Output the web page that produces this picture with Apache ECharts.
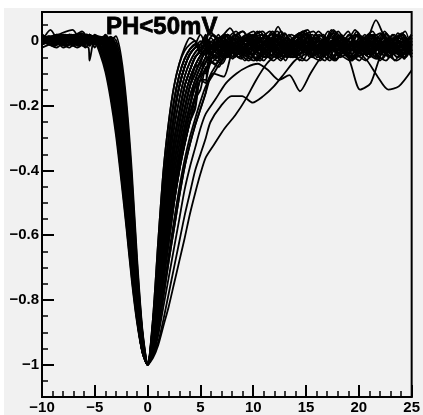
<!DOCTYPE html>
<html><head><meta charset="utf-8">
<script src="https://cdn.jsdelivr.net/npm/echarts@6/dist/echarts.min.js"></script>
<style>
html,body{margin:0;padding:0;background:#fff;}
#wrap{position:relative;width:423px;height:415px;background:#fff;overflow:hidden;}
#bg{position:absolute;left:4px;top:8px;width:419px;height:407px;background:#f1f1f1;}
#chart{position:absolute;left:0;top:0;width:423px;height:415px;}
</style></head><body>
<div id="wrap"><div id="bg"></div><div id="chart"></div></div>
<script>
// sample times (ns), relative to the pulse minimum
const timeNs = [-10,-9,-8,-7,-6,-5.5,-5,-4.5,-4,-3.5,-3,-2.5,-2,-1.5,-1,-0.5,0,0.5,1,1.5,2,2.5,3,3.5,4,4.5,5,5.5,6,7,8,9,10,11,12,13,14,15,16,17,18,19,20,21,22,23,24,25];

// normalised waveforms (amplitude), one per pulse
const wA = [0.01,-0.01,0.02,0,-0.015,0.01,0.005,-0.01,0.02,0.005,0.015,-0.05,-0.19,-0.40,-0.67,-0.89,-1,-0.86,-0.62,-0.40,-0.25,-0.14,-0.07,-0.03,-0.01,0,-0.02,-0.01,0.01,-0.05,0.01,0.03,-0.03,-0.06,0,0.025,-0.045,-0.02,0.02,-0.055,-0.01,0.03,-0.04,-0.015,-0.06,0,0.02,-0.04];
const wB = [-0.01,0.015,0,-0.02,0.01,0.02,-0.005,0.01,0,0.01,-0.01,-0.085,-0.23,-0.45,-0.70,-0.90,-1,-0.89,-0.70,-0.50,-0.35,-0.23,-0.14,-0.08,-0.04,-0.02,-0.01,0.01,-0.02,0,-0.03,-0.02,0.01,-0.02,0.045,-0.02,0,-0.01,-0.03,0.01,-0.02,-0.04,-0.01,0.01,-0.02,-0.03,-0.01,0];
const wC = [0,0.035,-0.01,0.01,0.03,0,-0.01,0.01,0,0.014,-0.03,-0.12,-0.28,-0.49,-0.73,-0.91,-1,-0.86,-0.62,-0.40,-0.25,-0.14,-0.07,-0.02,0.01,0,-0.03,-0.01,0.02,0.01,0.04,-0.02,-0.05,0.02,0,-0.045,-0.025,0.025,-0.035,-0.06,0.01,-0.03,0.03,-0.02,-0.055,0.005,-0.04,0.02];
const wD = [0.02,0,0.01,-0.01,0,0.015,0,-0.01,0.01,0.005,-0.05,-0.16,-0.32,-0.53,-0.75,-0.92,-1,-0.92,-0.76,-0.59,-0.43,-0.31,-0.22,-0.14,-0.09,-0.05,-0.03,-0.01,-0.02,0.01,-0.02,-0.04,-0.01,0,-0.03,-0.01,0.02,0.035,-0.04,-0.01,0.01,-0.03,-0.02,0,-0.02,-0.04,-0.01,-0.02];
const wE = [-0.01,0.01,0,0.02,-0.01,0,0.01,0,0.013,-0.01,-0.08,-0.20,-0.36,-0.57,-0.77,-0.93,-1,-0.89,-0.70,-0.50,-0.35,-0.23,-0.14,-0.08,-0.04,-0.02,-0.01,-0.03,0,-0.04,0.02,-0.05,-0.01,0.03,-0.02,-0.06,0,0.02,-0.04,-0.01,0.035,-0.03,-0.055,0.01,-0.02,0.025,-0.05,-0.03];
const wF = [0.01,-0.015,0.01,0,0.02,0.01,0,0.01,0.015,-0.03,-0.11,-0.23,-0.40,-0.60,-0.79,-0.935,-1,-0.94,-0.80,-0.65,-0.50,-0.38,-0.29,-0.21,-0.14,-0.08,-0.07,-0.02,-0.05,0.01,-0.04,0,-0.02,-0.04,-0.01,0.01,-0.02,-0.03,0,-0.02,-0.04,-0.01,0,-0.03,-0.02,0.01,-0.02,-0.03];
const wG = [0,0.01,0.025,0.035,-0.01,0,0.02,0.01,0.008,-0.04,-0.125,-0.25,-0.42,-0.615,-0.80,-0.94,-1,-0.92,-0.76,-0.59,-0.43,-0.31,-0.22,-0.14,-0.09,-0.05,-0.03,-0.01,0,-0.03,-0.01,-0.02,0.01,-0.03,-0.02,0,-0.04,-0.01,0.01,-0.02,-0.03,0,-0.01,-0.04,-0.01,0.01,-0.02,0];
const wH = [-0.02,0,0.01,0.01,0,0.02,0.005,0.012,0,-0.05,-0.14,-0.27,-0.44,-0.63,-0.81,-0.94,-1,-0.95,-0.83,-0.70,-0.57,-0.44,-0.35,-0.27,-0.20,-0.12,-0.11,-0.05,-0.07,0,-0.04,0.01,-0.02,-0.01,-0.04,-0.02,0.01,-0.03,-0.02,0,-0.03,-0.01,-0.04,-0.02,0.01,-0.02,-0.04,-0.01];
const wI = [0.015,0,-0.01,0.01,0.02,0,0.01,0.013,-0.01,-0.06,-0.155,-0.29,-0.455,-0.64,-0.815,-0.945,-1,-0.89,-0.70,-0.50,-0.35,-0.23,-0.14,-0.08,-0.04,-0.02,0,-0.02,-0.04,0.02,-0.05,0.01,-0.04,-0.06,0.02,-0.01,-0.05,0.015,0.03,-0.03,-0.06,-0.01,0.02,-0.045,0,-0.03,0.025,-0.05];
const wJ = [0,-0.01,0.015,-0.005,0.01,0,0.005,0.014,-0.02,-0.07,-0.17,-0.31,-0.47,-0.65,-0.82,-0.95,-1,-0.94,-0.80,-0.65,-0.50,-0.38,-0.29,-0.21,-0.14,-0.10,-0.06,-0.035,-0.02,0,-0.02,-0.04,-0.01,0.01,-0.02,-0.04,-0.01,0,-0.03,-0.01,0.01,-0.02,-0.03,0,-0.03,-0.02,0,-0.01];
const wK = [0.01,0,0,0.02,-0.01,0.01,0.008,0.01,-0.027,-0.085,-0.185,-0.325,-0.485,-0.665,-0.83,-0.95,-1,-0.96,-0.86,-0.74,-0.62,-0.50,-0.40,-0.32,-0.25,-0.18,-0.15,-0.08,-0.10,-0.02,-0.05,0.01,0,-0.02,-0.03,0.01,-0.02,-0.01,-0.04,-0.02,0,-0.02,-0.01,-0.03,-0.02,0,-0.03,-0.02];
const wL = [-0.01,0.01,0,0.015,0,0.02,0.012,0.007,-0.035,-0.10,-0.20,-0.34,-0.50,-0.68,-0.84,-0.95,-1,-0.92,-0.76,-0.59,-0.43,-0.31,-0.22,-0.14,-0.09,-0.05,-0.03,-0.01,-0.03,-0.05,0.02,-0.01,-0.06,0.01,0.03,-0.04,-0.02,0.02,-0.05,-0.03,0.015,-0.06,0,0.03,-0.035,-0.01,-0.055,0.01];
const wM = [0.02,0,-0.01,0,0.01,0,0.013,0,-0.043,-0.115,-0.215,-0.355,-0.515,-0.69,-0.845,-0.955,-1,-0.95,-0.83,-0.70,-0.57,-0.44,-0.35,-0.27,-0.20,-0.14,-0.10,-0.065,-0.04,-0.015,0,-0.03,-0.02,0,-0.02,-0.03,0,-0.02,-0.01,-0.03,0,-0.02,-0.03,-0.01,0.01,-0.03,-0.02,-0.01];
const wN = [0,0.02,0.005,-0.01,-0.02,-0.06,0.014,-0.01,-0.05,-0.13,-0.23,-0.37,-0.53,-0.70,-0.85,-0.96,-1,-0.94,-0.80,-0.65,-0.50,-0.38,-0.29,-0.21,-0.14,-0.10,-0.06,-0.035,-0.02,0.02,-0.045,-0.01,0.03,-0.05,-0.02,0.02,-0.06,0,-0.03,0.035,-0.02,-0.05,0.01,-0.04,0.02,-0.06,-0.01,0.02];
const wO = [0.01,-0.01,0,0.01,0.025,0.008,0.015,-0.015,-0.06,-0.14,-0.245,-0.385,-0.545,-0.71,-0.855,-0.96,-1,-0.96,-0.86,-0.74,-0.62,-0.50,-0.40,-0.32,-0.25,-0.21,-0.12,-0.13,-0.06,-0.08,0,-0.03,-0.04,-0.01,0.01,-0.02,-0.03,0,-0.02,0.01,-0.03,-0.02,0,-0.04,-0.01,-0.02,0,-0.02];
const wP = [-0.01,0.01,0,0,0.01,0.01,0.015,-0.02,-0.07,-0.15,-0.26,-0.40,-0.56,-0.72,-0.86,-0.96,-1,-0.95,-0.83,-0.70,-0.57,-0.44,-0.35,-0.27,-0.20,-0.14,-0.10,-0.065,-0.04,-0.015,-0.055,0.01,0.03,-0.04,-0.01,-0.06,0.015,0.02,-0.05,-0.02,0.03,-0.03,-0.06,0,0.025,-0.04,-0.01,-0.05];
const wQ = [0,-0.01,0.02,0.005,-0.005,0.013,0,-0.04,-0.095,-0.18,-0.29,-0.43,-0.58,-0.74,-0.87,-0.96,-1,-0.97,-0.89,-0.79,-0.68,-0.58,-0.48,-0.39,-0.32,-0.26,-0.21,-0.16,-0.10,-0.11,-0.02,-0.06,-0.01,0,-0.02,-0.01,-0.03,0,-0.02,-0.03,-0.01,0.01,-0.02,-0.03,-0.01,-0.02,0.01,-0.01];
const wR = [-0.01,0.01,0,0.02,-0.01,0,0.015,-0.005,0,0.012,-0.02,-0.10,-0.255,-0.47,-0.715,-0.905,-1,-0.97,-0.89,-0.79,-0.68,-0.58,-0.48,-0.39,-0.32,-0.26,-0.21,-0.16,-0.125,-0.065,-0.03,-0.01,0.02,-0.05,-0.01,0.03,-0.04,-0.06,0,0.02,-0.045,-0.02,0.035,-0.03,-0.055,0.01,-0.02,0.02];
const wS = [0,0.02,0.01,-0.01,0,0.01,-0.01,0,0.014,-0.015,-0.09,-0.21,-0.37,-0.58,-0.775,-0.93,-1,-0.97,-0.91,-0.82,-0.73,-0.64,-0.55,-0.46,-0.39,-0.33,-0.27,-0.225,-0.18,-0.13,-0.10,-0.08,-0.07,-0.09,-0.12,-0.105,-0.155,-0.10,-0.05,-0.02,-0.03,0,-0.02,-0.03,-0.01,-0.02,0,-0.03];
const wT = [0.01,0,-0.01,0.015,0,-0.01,0.01,0.013,-0.005,-0.055,-0.148,-0.28,-0.448,-0.635,-0.812,-0.943,-1,-0.97,-0.93,-0.86,-0.78,-0.70,-0.62,-0.54,-0.47,-0.40,-0.35,-0.30,-0.25,-0.20,-0.17,-0.17,-0.19,-0.17,-0.14,-0.10,-0.06,-0.04,-0.02,-0.04,-0.01,-0.02,0,-0.03,-0.02,-0.01,-0.03,0];
const wU = [0.005,0,0.015,-0.01,0.01,0,0.008,0.009,-0.03,-0.093,-0.193,-0.333,-0.493,-0.673,-0.835,-0.95,-1,-0.98,-0.94,-0.88,-0.82,-0.75,-0.68,-0.61,-0.535,-0.47,-0.41,-0.36,-0.32,-0.27,-0.23,-0.18,-0.12,-0.07,-0.04,-0.02,-0.04,-0.01,0,-0.03,-0.02,-0.01,-0.03,0,-0.02,-0.04,-0.02,-0.01];
const wV = [-0.01,0,0.01,0.02,0,0.01,0,0.01,0.012,-0.003,-0.065,-0.18,-0.34,-0.55,-0.76,-0.925,-1,-0.92,-0.76,-0.59,-0.43,-0.31,-0.22,-0.14,-0.09,-0.05,-0.03,-0.01,-0.02,0,-0.03,-0.01,0.01,-0.02,-0.03,0,-0.02,-0.01,-0.03,0,-0.02,-0.03,-0.02,-0.01,0.065,0,-0.02,-0.01];
const wW = [0.01,-0.01,0,0.01,-0.02,0,0.01,0,0.005,0.01,-0.04,-0.14,-0.30,-0.51,-0.74,-0.915,-1,-0.95,-0.83,-0.70,-0.57,-0.44,-0.35,-0.27,-0.20,-0.14,-0.10,-0.065,-0.04,-0.015,-0.02,0.01,-0.02,-0.03,0,-0.02,-0.01,-0.03,0,-0.02,-0.01,-0.06,-0.15,-0.13,-0.04,-0.01,-0.03,-0.02];
const wX = [0,0.01,-0.01,0.02,0,0.01,0,0.005,0.014,-0.02,-0.095,-0.215,-0.38,-0.585,-0.78,-0.93,-1,-0.89,-0.70,-0.50,-0.35,-0.23,-0.14,-0.08,-0.04,-0.02,-0.01,0.01,-0.02,-0.03,0,-0.02,-0.01,0.01,-0.03,-0.02,0,-0.02,-0.04,-0.01,0,-0.02,-0.03,-0.06,-0.11,-0.15,-0.14,-0.09];
const wY1 = [0.005,-0.02,0.01,0.015,-0.01,0.02,0,0.01,-0.005,0.012,0.003,-0.068,-0.21,-0.425,-0.685,-0.895,-1,-0.875,-0.66,-0.45,-0.30,-0.185,-0.105,-0.055,-0.025,-0.01,0.02,-0.01,-0.05,0,0.03,-0.02,-0.06,-0.01,0.02,-0.04,0.01,-0.05,-0.02,0.025,-0.03,-0.06,0,0.02,-0.045,-0.01,0.03,-0.04];
const wY2 = [-0.01,0,0.02,-0.015,0.005,0.01,-0.02,0.01,0.005,0.01,-0.04,-0.14,-0.30,-0.51,-0.74,-0.915,-1,-0.905,-0.73,-0.545,-0.39,-0.27,-0.18,-0.11,-0.065,-0.035,-0.02,-0.01,-0.04,0.01,-0.03,-0.055,0.01,0.03,-0.02,-0.05,0,-0.03,0.02,-0.01,-0.055,-0.02,0.02,-0.03,0.01,-0.05,-0.02,0.01];
const wY3 = [0.01,0,-0.015,0.01,0.02,0,-0.01,0.005,0.014,-0.02,-0.095,-0.215,-0.38,-0.585,-0.78,-0.93,-1,-0.93,-0.78,-0.62,-0.465,-0.345,-0.255,-0.175,-0.115,-0.075,-0.045,-0.024,-0.01,-0.04,0.02,-0.01,-0.05,-0.03,0.02,0,-0.045,-0.02,0.03,-0.01,-0.04,-0.06,-0.02,0.01,-0.03,0.02,-0.04,-0.01];
const wY4 = [-0.005,0.015,0,-0.02,0.01,0.005,0.015,0.013,-0.01,-0.06,-0.155,-0.29,-0.455,-0.64,-0.815,-0.945,-1,-0.945,-0.815,-0.675,-0.535,-0.41,-0.32,-0.24,-0.17,-0.12,-0.08,-0.05,-0.03,-0.01,0.02,-0.03,-0.06,-0.02,0.01,-0.04,0.02,0,-0.05,-0.01,0.025,-0.03,-0.05,0,0.02,-0.035,-0.06,-0.01];
const wY5 = [0.01,-0.01,0.02,0,-0.01,0.015,0.013,0,-0.043,-0.115,-0.215,-0.355,-0.515,-0.69,-0.845,-0.955,-1,-0.955,-0.845,-0.72,-0.595,-0.47,-0.375,-0.295,-0.225,-0.17,-0.10,-0.10,-0.04,-0.06,0.01,-0.04,-0.06,-0.02,0.02,-0.01,-0.045,0.01,-0.03,0.03,-0.02,-0.05,0,0.02,-0.04,-0.01,0.025,-0.03];
const wY6 = [0,0.015,-0.01,0.01,-0.005,0.012,0.008,-0.03,-0.083,-0.165,-0.275,-0.415,-0.57,-0.73,-0.865,-0.96,-1,-0.93,-0.78,-0.62,-0.465,-0.345,-0.255,-0.175,-0.115,-0.075,-0.045,-0.024,-0.01,0.01,-0.03,-0.05,0,0.02,-0.02,-0.055,-0.01,0.015,-0.04,-0.02,0.03,-0.01,-0.05,-0.03,0.01,-0.02,-0.05,0];
const wY7 = [0.015,0,-0.01,0.005,0.02,-0.01,0,0.01,0,0.012,-0.02,-0.10,-0.255,-0.47,-0.715,-0.905,-1,-0.94,-0.80,-0.65,-0.50,-0.38,-0.29,-0.21,-0.14,-0.10,-0.06,-0.035,-0.02,-0.05,-0.01,0.02,-0.03,-0.05,0.01,-0.02,0.025,-0.04,-0.06,-0.01,0.02,-0.03,0,-0.05,-0.02,0.02,-0.03,-0.01];
const wY8 = [0,-0.01,0.01,0,0.015,-0.015,0.01,0.011,0.008,-0.04,-0.125,-0.25,-0.42,-0.615,-0.80,-0.94,-1,-0.875,-0.66,-0.45,-0.30,-0.185,-0.105,-0.055,-0.025,-0.01,-0.03,0.01,0.03,-0.02,-0.05,-0.01,0.02,-0.03,-0.06,-0.02,0.01,0.03,-0.02,-0.04,0,-0.03,0.02,-0.05,-0.02,0.01,-0.04,-0.02];
const wY9 = [-0.01,0.01,0,-0.005,0.02,0,0.008,0.01,-0.027,-0.085,-0.185,-0.325,-0.485,-0.665,-0.83,-0.95,-1,-0.905,-0.73,-0.545,-0.39,-0.27,-0.18,-0.11,-0.065,-0.035,-0.02,-0.01,0.02,-0.02,-0.05,0,0.02,-0.03,-0.05,0.01,-0.02,-0.04,0.02,-0.01,-0.05,-0.03,0.015,-0.02,-0.055,0,0.02,-0.03];
const wY10 = [0.005,-0.01,0.015,0,0.01,0.008,0.015,-0.015,-0.06,-0.14,-0.245,-0.385,-0.545,-0.71,-0.855,-0.96,-1,-0.945,-0.815,-0.675,-0.535,-0.41,-0.32,-0.24,-0.17,-0.12,-0.08,-0.05,-0.03,-0.01,-0.04,-0.01,0.02,-0.03,-0.05,0,-0.02,0.03,-0.01,-0.045,-0.02,0.01,-0.035,-0.06,-0.01,0.02,-0.02,-0.04];
const wY11 = [0,0.01,-0.02,0,0.015,0.005,-0.01,0.01,0.012,-0.003,-0.065,-0.18,-0.34,-0.55,-0.76,-0.925,-1,-0.96,-0.86,-0.74,-0.62,-0.50,-0.40,-0.32,-0.25,-0.20,-0.12,-0.12,-0.05,-0.07,0,0.03,-0.02,-0.05,-0.01,0.02,-0.03,-0.06,-0.02,0.01,-0.04,0.02,-0.02,-0.05,0,-0.03,0.02,-0.04];
const wY12 = [0.01,0,0.005,-0.015,0,0.02,0.01,0.008,0.015,-0.025,-0.103,-0.223,-0.39,-0.593,-0.785,-0.933,-1,-0.955,-0.845,-0.72,-0.595,-0.47,-0.375,-0.295,-0.225,-0.17,-0.12,-0.083,-0.055,-0.022,-0.005,-0.03,0.01,-0.02,-0.05,0,0.025,-0.02,-0.04,0,-0.03,-0.055,0.01,-0.02,0.03,-0.03,-0.05,-0.01];
const wY13 = [0.02,0.005,-0.01,0.01,0,-0.01,0.005,0.014,-0.015,-0.065,-0.163,-0.30,-0.463,-0.645,-0.818,-0.948,-1,-0.89,-0.70,-0.50,-0.35,-0.23,-0.14,-0.08,-0.04,-0.02,-0.01,0.02,-0.03,-0.05,0.01,0,-0.04,-0.02,0.03,-0.01,-0.05,-0.03,0.01,-0.02,-0.06,0,0.02,-0.03,-0.01,-0.05,0.01,-0.02];
const wY14 = [0,0.01,-0.015,0,0.02,-0.005,0.01,0,-0.01,0.011,-0.015,-0.093,-0.243,-0.46,-0.708,-0.903,-1,-0.93,-0.78,-0.62,-0.465,-0.345,-0.255,-0.175,-0.115,-0.075,-0.045,-0.024,-0.01,0.02,-0.02,-0.045,0,-0.03,0.02,-0.05,-0.02,0.01,-0.03,-0.06,-0.01,0.02,-0.04,-0.01,0.025,-0.03,-0.05,0];
const wY15 = [-0.01,0,0.02,0.01,-0.01,0.007,0.015,-0.013,-0.055,-0.135,-0.238,-0.378,-0.538,-0.705,-0.853,-0.96,-1,-0.875,-0.66,-0.45,-0.30,-0.185,-0.105,-0.055,-0.025,-0.01,-0.04,0.01,-0.02,-0.05,0.02,-0.01,-0.04,0,0.03,-0.02,-0.05,-0.01,0.02,-0.03,-0.055,0,-0.02,0.02,-0.04,-0.06,-0.01,0.01];
const wY16 = [0,-0.015,0.01,0.02,0,-0.01,0.015,0.012,0.004,-0.045,-0.133,-0.26,-0.43,-0.623,-0.805,-0.94,-1,-0.967,-0.88,-0.773,-0.66,-0.553,-0.453,-0.367,-0.297,-0.24,-0.187,-0.14,-0.107,-0.053,-0.023,-0.009,-0.03,0.02,-0.02,-0.05,-0.01,0.02,-0.04,-0.02,0.01,-0.05,-0.03,0.02,-0.01,-0.04,0,-0.03];

const waveforms = [wA,wB,wC,wD,wE,wF,wG,wH,wI,wJ,wK,wL,wM,wN,wO,wP,wQ,wR,wS,wT,wU,wV,wW,wX,
  wY1,wY2,wY3,wY4,wY5,wY6,wY7,wY8,wY9,wY10,wY11,wY12,wY13,wY14,wY15,wY16];

// digitiser sampling phase of each pulse (ns), affects the baseline samples away from the pulse
const samplePhase = [0,0.35,-0.2,0.15,-0.4,0.25,-0.1,0.45,-0.3,0.1,-0.45,0.3,-0.15,0.4,-0.25,0.05,0.2,-0.35,0.42,-0.05,
  0.28,-0.38,0.12,-0.22,0.37,-0.12,0.18,-0.42,0.08,-0.28,0.33,-0.08,0.22,-0.33,0.03,0.44,-0.18,0.26,-0.43,0.14];

// axis ticks
const yMajorTicks = [-1,-0.8,-0.6,-0.4,-0.2,0];
const yMinorTicks = [-1.1,-1.05,-1,-0.95,-0.9,-0.85,-0.8,-0.75,-0.7,-0.65,-0.6,-0.55,-0.5,-0.45,-0.4,-0.35,-0.3,-0.25,-0.2,-0.15,-0.1,-0.05,0,0.05];
const titleText = 'PH<50mV';

const FONT = '"Liberation Sans", Arial, Helvetica, sans-serif';
function fmt(v){
  const r = Math.round(v*100)/100;
  if (r === 0) return '0';
  return (r < 0 ? '\u2212' : '') + String(Math.abs(r));
}
function sampleTime(t, k){
  return (Math.abs(t) >= 6 && t > -10 && t < 25) ? t + samplePhase[k] : t;
}
const chart = echarts.init(document.getElementById('chart'), null, {renderer:'canvas'});
const labelStyle = {color:'#000', fontFamily:FONT, fontWeight:'bold', fontSize:15};
const option = {
  animation:false,
  backgroundColor:'transparent',
  title:{text:titleText, left:101, top:10,
    textStyle:{fontFamily:FONT, fontWeight:'bold', fontSize:24, color:'#000', textBorderColor:'#000', textBorderWidth:0.8}},
  grid:{left:42, right:3, top:12, bottom:18, show:true, borderColor:'#000', borderWidth:2, backgroundColor:'transparent'},
  xAxis:{type:'value', min:-10, max:25, interval:5,
    axisLine:{onZero:false, lineStyle:{color:'#000', width:2}},
    axisTick:{inside:true, length:12, lineStyle:{color:'#000', width:2}},
    minorTick:{show:true, splitNumber:5, length:6, lineStyle:{color:'#000', width:1.5}},
    splitLine:{show:false},
    axisLabel:Object.assign({formatter:fmt, margin:3, showMinLabel:true, showMaxLabel:true}, labelStyle)},
  yAxis:[
    {type:'value', min:-1.1, max:0.09, position:'left',
     axisLine:{onZero:false, lineStyle:{color:'#000', width:2}},
     axisTick:{inside:true, length:12, customValues:yMajorTicks, lineStyle:{color:'#000', width:2}},
     splitLine:{show:false},
     axisLabel:Object.assign({customValues:yMajorTicks, formatter:fmt, margin:3}, labelStyle)},
    {type:'value', min:-1.1, max:0.09, position:'left', offset:0,
     axisLine:{show:false, onZero:false},
     axisTick:{inside:true, length:6, customValues:yMinorTicks, lineStyle:{color:'#000', width:1.5}},
     splitLine:{show:false},
     axisLabel:{show:false}}
  ],
  series: waveforms.map((w, k) => ({
    type:'line', xAxisIndex:0, yAxisIndex:0,
    data: timeNs.map((t,i) => [sampleTime(t, k), w[i]]),
    showSymbol:false, smooth:0.25, silent:true,
    lineStyle:{color:'#000', width:1.8}
  }))
};
chart.setOption(option);
</script>
</body></html>
